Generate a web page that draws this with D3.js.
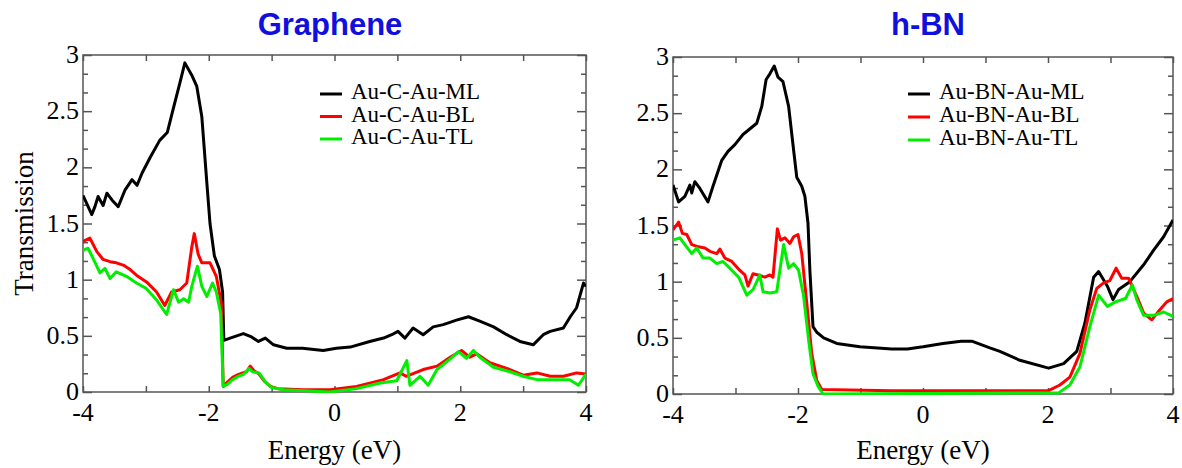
<!DOCTYPE html>
<html><head><meta charset="utf-8">
<script src="https://cdn.jsdelivr.net/npm/d3@7"></script>
<style>
html,body{margin:0;padding:0;background:#fff;}
svg{display:block;}
</style></head>
<body>
<svg id="chart" width="1182" height="468"></svg>
<script>
// ---------- data (energy eV, transmission) ----------
const xTickLabels = [-4, -2, 0, 2, 4];
const yTickLabels = [0, 0.5, 1, 1.5, 2, 2.5, 3];

const grapheneML = [[-4,1.75],[-3.86,1.58],[-3.81,1.65],[-3.76,1.74],[-3.68,1.66],[-3.62,1.77],[-3.54,1.71],[-3.44,1.65],[-3.33,1.80],[-3.22,1.89],[-3.14,1.84],[-3.06,1.95],[-2.93,2.09],[-2.78,2.24],[-2.66,2.31],[-2.57,2.51],[-2.46,2.75],[-2.38,2.93],[-2.27,2.82],[-2.19,2.72],[-2.11,2.45],[-2.03,1.86],[-1.98,1.50],[-1.91,1.21],[-1.83,1.09],[-1.78,0.89],[-1.76,0.46],[-1.66,0.48],[-1.45,0.52],[-1.32,0.49],[-1.21,0.45],[-1.10,0.48],[-0.97,0.42],[-0.76,0.39],[-0.51,0.39],[-0.18,0.37],[0.03,0.39],[0.25,0.40],[0.56,0.45],[0.78,0.48],[0.91,0.51],[1.01,0.54],[1.12,0.48],[1.25,0.57],[1.41,0.51],[1.57,0.58],[1.73,0.60],[1.94,0.64],[2.13,0.67],[2.31,0.63],[2.53,0.58],[2.74,0.51],[2.95,0.45],[3.16,0.42],[3.32,0.51],[3.43,0.54],[3.64,0.57],[3.75,0.67],[3.85,0.75],[3.96,0.97],[4.0,0.94]];
const grapheneBL = [[-4,1.34],[-3.89,1.37],[-3.78,1.25],[-3.68,1.18],[-3.57,1.16],[-3.47,1.15],[-3.36,1.13],[-3.25,1.09],[-3.15,1.04],[-2.99,0.98],[-2.83,0.89],[-2.70,0.77],[-2.59,0.89],[-2.46,0.91],[-2.35,0.97],[-2.27,1.29],[-2.23,1.41],[-2.17,1.23],[-2.11,1.15],[-1.98,1.15],[-1.88,1.03],[-1.80,0.79],[-1.77,0.05],[-1.70,0.09],[-1.62,0.13],[-1.55,0.15],[-1.46,0.17],[-1.40,0.18],[-1.34,0.23],[-1.28,0.19],[-1.20,0.16],[-1.12,0.10],[-1.02,0.05],[-0.9,0.03],[-0.5,0.02],[-0.07,0.02],[0.35,0.05],[0.78,0.11],[1.04,0.17],[1.14,0.14],[1.41,0.20],[1.63,0.23],[1.84,0.31],[2.02,0.37],[2.15,0.31],[2.26,0.34],[2.47,0.26],[2.74,0.21],[3.0,0.15],[3.22,0.17],[3.43,0.14],[3.64,0.14],[3.85,0.17],[4.0,0.16]];
const grapheneTL = [[-4,1.26],[-3.92,1.28],[-3.84,1.19],[-3.73,1.06],[-3.65,1.10],[-3.57,1.01],[-3.47,1.07],[-3.31,1.03],[-3.15,0.97],[-2.99,0.92],[-2.83,0.82],[-2.67,0.69],[-2.56,0.91],[-2.48,0.80],[-2.40,0.83],[-2.32,0.80],[-2.27,0.94],[-2.18,1.12],[-2.11,0.94],[-2.03,0.85],[-1.94,0.97],[-1.88,0.89],[-1.81,0.70],[-1.77,0.05],[-1.70,0.07],[-1.62,0.11],[-1.53,0.14],[-1.44,0.16],[-1.36,0.21],[-1.30,0.18],[-1.20,0.17],[-1.10,0.09],[-1.0,0.04],[-0.8,0.02],[-0.07,0.0],[0.35,0.03],[0.73,0.08],[0.99,0.10],[1.15,0.28],[1.2,0.06],[1.36,0.14],[1.49,0.06],[1.63,0.20],[1.81,0.28],[1.97,0.36],[2.1,0.30],[2.21,0.37],[2.31,0.31],[2.53,0.22],[2.79,0.18],[3.0,0.14],[3.22,0.11],[3.48,0.11],[3.74,0.11],[3.88,0.06],[4.0,0.16]];

const hbnML = [[-4,1.86],[-3.91,1.71],[-3.81,1.76],[-3.73,1.86],[-3.70,1.79],[-3.65,1.89],[-3.57,1.83],[-3.44,1.71],[-3.36,1.85],[-3.22,2.08],[-3.12,2.16],[-3.01,2.22],[-2.88,2.31],[-2.66,2.41],[-2.58,2.56],[-2.51,2.80],[-2.45,2.85],[-2.38,2.92],[-2.32,2.82],[-2.24,2.78],[-2.15,2.56],[-2.07,2.17],[-2.02,1.93],[-1.94,1.85],[-1.89,1.76],[-1.84,1.52],[-1.81,1.10],[-1.76,0.60],[-1.70,0.55],[-1.59,0.50],[-1.38,0.45],[-1.01,0.42],[-0.5,0.40],[-0.25,0.40],[0.0,0.42],[0.32,0.45],[0.61,0.47],[0.78,0.47],[1.07,0.41],[1.23,0.38],[1.55,0.30],[2.01,0.23],[2.25,0.27],[2.46,0.38],[2.59,0.63],[2.73,1.04],[2.81,1.09],[2.95,0.96],[3.04,0.84],[3.13,0.93],[3.31,1.0],[3.53,1.15],[3.69,1.28],[3.85,1.40],[4.0,1.55]];
const hbnBL = [[-4,1.46],[-3.91,1.53],[-3.85,1.43],[-3.78,1.42],[-3.70,1.33],[-3.59,1.31],[-3.49,1.30],[-3.41,1.27],[-3.30,1.25],[-3.25,1.29],[-3.17,1.21],[-3.06,1.18],[-2.93,1.10],[-2.85,1.06],[-2.80,0.96],[-2.72,1.07],[-2.64,1.06],[-2.53,1.04],[-2.45,1.06],[-2.40,1.04],[-2.33,1.47],[-2.28,1.37],[-2.21,1.39],[-2.13,1.34],[-2.07,1.40],[-2.00,1.42],[-1.94,1.25],[-1.86,0.81],[-1.78,0.36],[-1.70,0.12],[-1.62,0.04],[-0.5,0.03],[2.01,0.03],[2.19,0.08],[2.35,0.15],[2.51,0.36],[2.67,0.75],[2.78,0.94],[2.89,0.99],[2.99,1.01],[3.09,1.12],[3.18,1.03],[3.29,1.03],[3.42,0.87],[3.53,0.72],[3.66,0.66],[3.79,0.75],[3.90,0.82],[4.0,0.85]];
const hbnTL = [[-4,1.37],[-3.89,1.39],[-3.81,1.33],[-3.70,1.25],[-3.62,1.30],[-3.52,1.21],[-3.41,1.21],[-3.30,1.16],[-3.20,1.18],[-3.09,1.12],[-2.95,1.04],[-2.82,0.88],[-2.72,0.93],[-2.61,1.06],[-2.56,0.91],[-2.45,0.90],[-2.34,0.91],[-2.23,1.33],[-2.15,1.12],[-2.07,1.16],[-1.99,1.10],[-1.91,0.87],[-1.83,0.48],[-1.76,0.18],[-1.68,0.07],[-1.60,0.0],[2.17,0.01],[2.35,0.08],[2.51,0.24],[2.67,0.60],[2.81,0.88],[2.95,0.78],[3.08,0.82],[3.24,0.85],[3.35,0.97],[3.42,0.84],[3.53,0.70],[3.69,0.70],[3.85,0.73],[4.0,0.69]];

const grapheneNames = ["Au-C-Au-ML", "Au-C-Au-BL", "Au-C-Au-TL"];
const hbnNames = ["Au-BN-Au-ML", "Au-BN-Au-BL", "Au-BN-Au-TL"];
const seriesColors = ["#000000", "#ff0000", "#00ee00"];
const panelTitles = ["Graphene", "h-BN"];

// ---------- drawing ----------
const svg = d3.select("#chart");
const serif = "'Liberation Serif','Times New Roman',serif";

function panel(cfg) {
  const x = d3.scaleLinear().domain([-4, 4]).range([cfg.x0, cfg.x1]);
  const y = d3.scaleLinear().domain([0, 3]).range([cfg.y1, cfg.y0]);
  const g = svg.append("g");
  const axisColor = "#555";

  g.append("rect").attr("x", cfg.x0).attr("y", cfg.y0)
    .attr("width", cfg.x1 - cfg.x0).attr("height", cfg.y1 - cfg.y0)
    .attr("fill", "none").attr("stroke", axisColor).attr("stroke-width", 1.5);

  const xt = d3.range(-4, 4.001, 1);
  const yMajor = d3.range(0, 3.001, 0.5);
  const yMinor = d3.range(0, 3.001, 0.5 / 3).filter(v => Math.abs(v * 2 - Math.round(v * 2)) > 1e-6);

  function ticks(axisFn, scale, vals, size, transform) {
    const a = axisFn(scale).tickValues(vals).tickSize(size).tickFormat("");
    const ag = g.append("g").attr("transform", transform).call(a);
    ag.select(".domain").remove();
    ag.selectAll("line").attr("stroke", axisColor).attr("stroke-width", 1.5);
  }
  ticks(d3.axisBottom, x, xt, -6, `translate(0,${cfg.y1})`);
  ticks(d3.axisTop, x, xt, -6, `translate(0,${cfg.y0})`);
  ticks(d3.axisLeft, y, yMajor, -9, `translate(${cfg.x0},0)`);
  ticks(d3.axisLeft, y, yMinor, -5, `translate(${cfg.x0},0)`);
  ticks(d3.axisRight, y, yMajor, -9, `translate(${cfg.x1},0)`);
  ticks(d3.axisRight, y, yMinor, -5, `translate(${cfg.x1},0)`);

  g.selectAll(".xl").data(xTickLabels).enter().append("text")
    .attr("x", d => x(d)).attr("y", cfg.y1 + 29)
    .attr("text-anchor", "middle").attr("font-family", serif).attr("font-size", 26)
    .text(d => d);
  g.selectAll(".yl").data(yTickLabels).enter().append("text")
    .attr("x", cfg.x0 - 4).attr("y", d => y(d) + 8)
    .attr("text-anchor", "end").attr("font-family", serif).attr("font-size", 26)
    .text(d => d);

  g.append("text").attr("x", (cfg.x0 + cfg.x1) / 2).attr("y", 459)
    .attr("text-anchor", "middle").attr("font-family", serif).attr("font-size", 27)
    .text("Energy (eV)");
  if (cfg.ylabel) {
    g.append("text").attr("transform", `translate(33,${(cfg.y0 + cfg.y1) / 2}) rotate(-90)`)
      .attr("text-anchor", "middle").attr("font-family", serif).attr("font-size", 27)
      .text("Transmission");
  }

  g.append("text").attr("x", cfg.tx).attr("y", 35)
    .attr("text-anchor", "middle").attr("font-family", "'Liberation Sans',Arial,sans-serif")
    .attr("font-weight", "bold").attr("font-size", 31).attr("fill", "#1010dd")
    .text(cfg.title);

  const line = d3.line().x(d => x(d[0])).y(d => y(d[1]));
  const clipId = "clip" + cfg.id;
  svg.append("clipPath").attr("id", clipId).append("rect")
    .attr("x", cfg.x0).attr("y", cfg.y0 - 2).attr("width", cfg.x1 - cfg.x0).attr("height", cfg.y1 - cfg.y0 + 3);
  cfg.series.forEach((s, i) => {
    g.append("path").datum(s).attr("d", line).attr("fill", "none")
      .attr("stroke", seriesColors[i]).attr("stroke-width", 3)
      .attr("stroke-linejoin", "round").attr("clip-path", `url(#${clipId})`);
  });

  cfg.names.forEach((n, i) => {
    const ly = cfg.ly + i * cfg.lstep;
    g.append("line").attr("x1", cfg.lx).attr("x2", cfg.lx + 22)
      .attr("y1", ly + 3).attr("y2", ly + 3)
      .attr("stroke", seriesColors[i]).attr("stroke-width", 3);
    g.append("text").attr("x", cfg.lx + 31).attr("y", ly + 8)
      .attr("font-family", serif).attr("font-size", 23).text(n);
  });
}

panel({id: 1, x0: 83, x1: 586, y0: 55, y1: 392, title: panelTitles[0], tx: 330, ylabel: true,
  series: [grapheneML, grapheneBL, grapheneTL], names: grapheneNames, lx: 320, ly: 91, lstep: 22.5});
panel({id: 2, x0: 673, x1: 1173, y0: 57, y1: 394, title: panelTitles[1], tx: 928, ylabel: false,
  series: [hbnML, hbnBL, hbnTL], names: hbnNames, lx: 908, ly: 91, lstep: 23});
</script>
</body></html>
